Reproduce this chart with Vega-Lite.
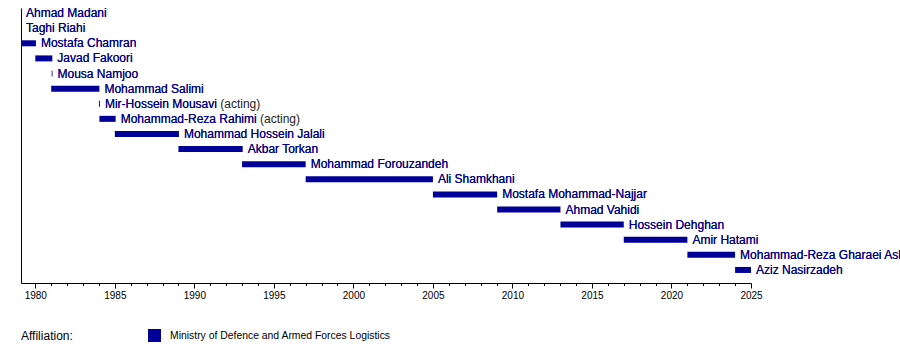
{
  "$schema": "https://vega.github.io/schema/vega-lite/v6.json",
  "width": 730,
  "height": 275,
  "autosize": {"type": "none"},
  "padding": {"left": 21, "top": 8, "right": 149, "bottom": 79},
  "background": "white",
  "config": {"font": "Liberation Sans", "view": {"stroke": null}},
  "data": {
    "values": [
      {"name": "Ahmad Madani", "full": "Ahmad Madani", "start": 1979.1, "end": 1979.1, "affiliation": "Ministry of Defence and Armed Forces Logistics"},
      {"name": "Taghi Riahi", "full": "Taghi Riahi", "start": 1979.1, "end": 1979.1, "affiliation": "Ministry of Defence and Armed Forces Logistics"},
      {"name": "Mostafa Chamran", "full": "Mostafa Chamran", "start": 1979.1, "end": 1980.04, "affiliation": "Ministry of Defence and Armed Forces Logistics"},
      {"name": "Javad Fakoori", "full": "Javad Fakoori", "start": 1980.0, "end": 1981.07, "affiliation": "Ministry of Defence and Armed Forces Logistics"},
      {"name": "Mousa Namjoo", "full": "Mousa Namjoo", "start": 1981.03, "end": 1981.08, "affiliation": "Ministry of Defence and Armed Forces Logistics"},
      {"name": "Mohammad Salimi", "full": "Mohammad Salimi", "start": 1981.0, "end": 1984.03, "affiliation": "Ministry of Defence and Armed Forces Logistics"},
      {"name": "Mir-Hossein Mousavi", "full": "Mir-Hossein Mousavi (acting)", "start": 1984.0, "end": 1984.06, "affiliation": "Ministry of Defence and Armed Forces Logistics"},
      {"name": "Mohammad-Reza Rahimi", "full": "Mohammad-Reza Rahimi (acting)", "start": 1984.03, "end": 1985.05, "affiliation": "Ministry of Defence and Armed Forces Logistics"},
      {"name": "Mohammad Hossein Jalali", "full": "Mohammad Hossein Jalali", "start": 1985.0, "end": 1989.03, "affiliation": "Ministry of Defence and Armed Forces Logistics"},
      {"name": "Akbar Torkan", "full": "Akbar Torkan", "start": 1989.0, "end": 1993.04, "affiliation": "Ministry of Defence and Armed Forces Logistics"},
      {"name": "Mohammad Forouzandeh", "full": "Mohammad Forouzandeh", "start": 1993.0, "end": 1997.0, "affiliation": "Ministry of Defence and Armed Forces Logistics"},
      {"name": "Ali Shamkhani", "full": "Ali Shamkhani", "start": 1997.0, "end": 2005.0, "affiliation": "Ministry of Defence and Armed Forces Logistics"},
      {"name": "Mostafa Mohammad-Najjar", "full": "Mostafa Mohammad-Najjar", "start": 2005.0, "end": 2009.04, "affiliation": "Ministry of Defence and Armed Forces Logistics"},
      {"name": "Ahmad Vahidi", "full": "Ahmad Vahidi", "start": 2009.04, "end": 2013.02, "affiliation": "Ministry of Defence and Armed Forces Logistics"},
      {"name": "Hossein Dehghan", "full": "Hossein Dehghan", "start": 2013.02, "end": 2017.0, "affiliation": "Ministry of Defence and Armed Forces Logistics"},
      {"name": "Amir Hatami", "full": "Amir Hatami", "start": 2017.0, "end": 2021.0, "affiliation": "Ministry of Defence and Armed Forces Logistics"},
      {"name": "Mohammad-Reza Gharaei Asl", "full": "Mohammad-Reza Gharaei Asl", "start": 2021.0, "end": 2024.0, "affiliation": "Ministry of Defence and Armed Forces Logistics"},
      {"name": "Aziz Nasirzadeh", "full": "Aziz Nasirzadeh", "start": 2024.0, "end": 2025.0, "affiliation": "Ministry of Defence and Armed Forces Logistics"}
    ]
  },
  "encoding": {
    "y": {
      "field": "name",
      "type": "nominal",
      "sort": null,
      "scale": {"type": "point", "padding": 0.6, "align": 0.28},
      "axis": {"domain": true, "domainColor": "black", "domainWidth": 1, "ticks": false, "labels": false, "title": null, "grid": false}
    }
  },
  "layer": [
    {
      "mark": {"type": "bar", "height": 6},
      "encoding": {
        "x": {
          "field": "start",
          "type": "quantitative",
          "scale": {"domain": [1979.1, 2025], "nice": false, "zero": false},
          "axis": {
            "title": null,
            "grid": false,
            "values": [1980,1981,1982,1983,1984,1985,1986,1987,1988,1989,1990,1991,1992,1993,1994,1995,1996,1997,1998,1999,2000,2001,2002,2003,2004,2005,2006,2007,2008,2009,2010,2011,2012,2013,2014,2015,2016,2017,2018,2019,2020,2021,2022,2023,2024,2025],
            "labelExpr": "datum.value % 5 === 0 ? format(datum.value, 'd') : ''",
            "tickSize": {"condition": {"test": "datum.value % 5 === 0", "value": 5}, "value": 2.5},
            "tickColor": "black",
            "domainColor": "black",
            "labelColor": "black",
            "labelFontSize": 10,
            "labelPadding": 2,
            "labelFlush": false,
            "labelOverlap": false
          }
        },
        "x2": {"field": "end"},
        "color": {
          "field": "affiliation",
          "type": "nominal",
          "scale": {"range": ["#000099"]},
          "legend": {
            "orient": "none",
            "legendX": 0,
            "legendY": 321,
            "direction": "horizontal",
            "title": "Affiliation:",
            "titleOrient": "left",
            "titlePadding": 75,
            "titleFontSize": 12,
            "titleFontWeight": "normal",
            "titleColor": "black",
            "labelFontSize": 10.4,
            "labelColor": "black",
            "labelLimit": 0,
            "symbolType": "square",
            "symbolSize": 169,
            "symbolStrokeWidth": 0,
            "labelOffset": 9
          }
        }
      }
    },
    {
      "mark": {"type": "text", "align": "left", "baseline": "middle", "dx": 5, "fontSize": 12, "color": "#222222"},
      "encoding": {
        "x": {
          "field": "end",
          "type": "quantitative",
          "axis": {
            "title": null,
            "grid": false,
            "values": [1980,1981,1982,1983,1984,1985,1986,1987,1988,1989,1990,1991,1992,1993,1994,1995,1996,1997,1998,1999,2000,2001,2002,2003,2004,2005,2006,2007,2008,2009,2010,2011,2012,2013,2014,2015,2016,2017,2018,2019,2020,2021,2022,2023,2024,2025],
            "labelExpr": "datum.value % 5 === 0 ? format(datum.value, 'd') : ''",
            "tickSize": {"condition": {"test": "datum.value % 5 === 0", "value": 5}, "value": 2.5},
            "tickColor": "black",
            "domainColor": "black",
            "labelColor": "black",
            "labelFontSize": 10,
            "labelPadding": 2,
            "labelFlush": false,
            "labelOverlap": false
          }
        },
        "text": {"field": "full"}
      }
    },
    {
      "mark": {"type": "text", "align": "left", "baseline": "middle", "dx": 5, "fontSize": 12, "color": "#0000a0"},
      "encoding": {
        "x": {
          "field": "end",
          "type": "quantitative",
          "axis": {
            "title": null,
            "grid": false,
            "values": [1980,1981,1982,1983,1984,1985,1986,1987,1988,1989,1990,1991,1992,1993,1994,1995,1996,1997,1998,1999,2000,2001,2002,2003,2004,2005,2006,2007,2008,2009,2010,2011,2012,2013,2014,2015,2016,2017,2018,2019,2020,2021,2022,2023,2024,2025],
            "labelExpr": "datum.value % 5 === 0 ? format(datum.value, 'd') : ''",
            "tickSize": {"condition": {"test": "datum.value % 5 === 0", "value": 5}, "value": 2.5},
            "tickColor": "black",
            "domainColor": "black",
            "labelColor": "black",
            "labelFontSize": 10,
            "labelPadding": 2,
            "labelFlush": false,
            "labelOverlap": false
          }
        },
        "text": {"field": "name"}
      }
    }
  ]
}
